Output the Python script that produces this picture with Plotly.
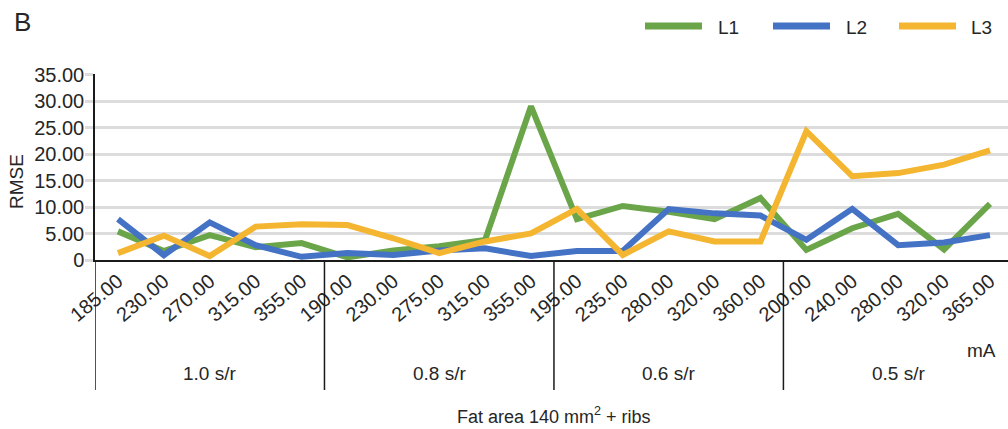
import plotly.graph_objects as go

# Tube current (mA) settings within each rotation-time group
groups = ["1.0 s/r", "0.8 s/r", "0.6 s/r", "0.5 s/r"]
ma_labels = [
    "185.00", "230.00", "270.00", "315.00", "355.00",
    "190.00", "230.00", "275.00", "315.00", "355.00",
    "195.00", "235.00", "280.00", "320.00", "360.00",
    "200.00", "240.00", "280.00", "320.00", "365.00",
]

# RMSE per setting for each lesion
l1 = [5.4, 1.7, 4.7, 2.4, 3.2, 0.5, 1.8, 2.6, 3.8, 29.0,
      7.7, 10.2, 9.1, 7.7, 11.7, 1.9, 6.0, 8.7, 2.0, 10.6]
l2 = [7.7, 0.9, 7.1, 2.8, 0.6, 1.3, 0.95, 1.8, 2.2, 0.75,
      1.7, 1.7, 9.6, 8.8, 8.4, 3.8, 9.65, 2.8, 3.3, 4.7]
l3 = [1.3, 4.6, 0.75, 6.3, 6.75, 6.6, 4.1, 1.3, 3.5, 5.0,
      9.65, 0.95, 5.4, 3.5, 3.5, 24.3, 15.8, 16.4, 18.0, 20.7]

series_names = ["L1", "L2", "L3"]
series_colors = ["#6ba54a", "#4472c4", "#f4b531"]

y_ticks = [0, 5, 10, 15, 20, 25, 30, 35]
y_tick_text = ["0"] + [f"{v:.2f}" for v in y_ticks[1:]]

W, H = 1008, 429
ML, MR, MT, MB = 95, 0, 74, 169
PW, PH = W - ML - MR, H - MT - MB
FONT = "Liberation Sans, Arial, Helvetica, sans-serif"
TXT = "#262626"


def px_x(x):
    return (x - ML) / PW


def px_y(y):
    return (H - MB - y) / PH


fig = go.Figure()
xs = list(range(len(ma_labels)))
for name, vals, col in zip(series_names, [l1, l2, l3], series_colors):
    fig.add_trace(go.Scatter(
        x=xs, y=vals, name=name, mode="lines",
        line=dict(color=col, width=6), showlegend=False,
    ))

n_per = len(ma_labels) // len(groups)
shapes = []
annotations = []

# group dividers running down through the label band
for g in range(len(groups) + 1):
    xb = g * n_per - 0.5
    if xb > len(ma_labels) - 0.6:
        continue
    shapes.append(dict(type="line", xref="x", yref="paper",
                       x0=xb, x1=xb, y0=0, y1=px_y(390),
                       line=dict(color="#1a1a1a", width=1.5)))

for g, lab in enumerate(groups):
    annotations.append(dict(xref="x", yref="paper", x=g * n_per + (n_per - 1) / 2,
                            y=px_y(373), text=lab, showarrow=False,
                            xanchor="center", yanchor="middle",
                            font=dict(size=19, color=TXT, family=FONT)))

annotations += [
    dict(xref="paper", yref="paper", x=px_x(998), y=px_y(350), text="mA",
         showarrow=False, xanchor="right", yanchor="middle",
         font=dict(size=19, color=TXT, family=FONT)),
    dict(xref="paper", yref="paper", x=px_x(553.5), y=px_y(415),
         text="Fat area 140 mm<sup>2</sup> + ribs", showarrow=False,
         xanchor="center", yanchor="middle",
         font=dict(size=18, color=TXT, family=FONT)),
    dict(xref="paper", yref="paper", x=px_x(16), y=px_y(182), text="RMSE",
         textangle=-90, showarrow=False, xanchor="center", yanchor="middle",
         font=dict(size=19, color=TXT, family=FONT)),
    dict(xref="paper", yref="paper", x=px_x(12), y=px_y(22), text="B",
         showarrow=False, xanchor="left", yanchor="middle",
         font=dict(size=26, color=TXT, family=FONT)),
]

# legend drawn as line swatches with labels
leg_x = [(645, 702, 716), (773, 830, 844), (899, 956, 969)]
for (x0, x1, xt), name, col in zip(leg_x, series_names, series_colors):
    shapes.append(dict(type="line", xref="paper", yref="paper",
                       x0=px_x(x0), x1=px_x(x1), y0=px_y(26), y1=px_y(26),
                       line=dict(color=col, width=7)))
    annotations.append(dict(xref="paper", yref="paper", x=px_x(xt), y=px_y(27),
                            text=name, showarrow=False, xanchor="left",
                            yanchor="middle",
                            font=dict(size=19, color=TXT, family=FONT)))

fig.update_layout(
    width=W, height=H,
    margin=dict(l=ML, r=MR, t=MT, b=MB, pad=0),
    paper_bgcolor="white", plot_bgcolor="white",
    shapes=shapes, annotations=annotations,
    font=dict(family=FONT, color=TXT),
    xaxis=dict(
        range=[-0.5, -0.5 + (W - 94.5) / 45.92],
        tickmode="array", tickvals=xs, ticktext=ma_labels,
        tickangle=-40, tickfont=dict(size=20, color=TXT, family=FONT),
        showgrid=False, zeroline=False, ticks="",
        showline=True, linecolor="#1a1a1a", linewidth=1.5,
    ),
    yaxis=dict(
        range=[0, 35.1], tickmode="array", tickvals=y_ticks, ticktext=y_tick_text,
        tickfont=dict(size=20, color=TXT, family=FONT),
        showgrid=True, gridcolor="#dcdcdc", gridwidth=2.5,
        ticks="outside", ticklen=8, tickcolor="#dcdcdc", tickwidth=2.5,
        ticklabelstandoff=-3,
        zeroline=False, showline=True, linecolor="#1a1a1a", linewidth=1.5,
    ),
)

fig.write_html("out.html")
